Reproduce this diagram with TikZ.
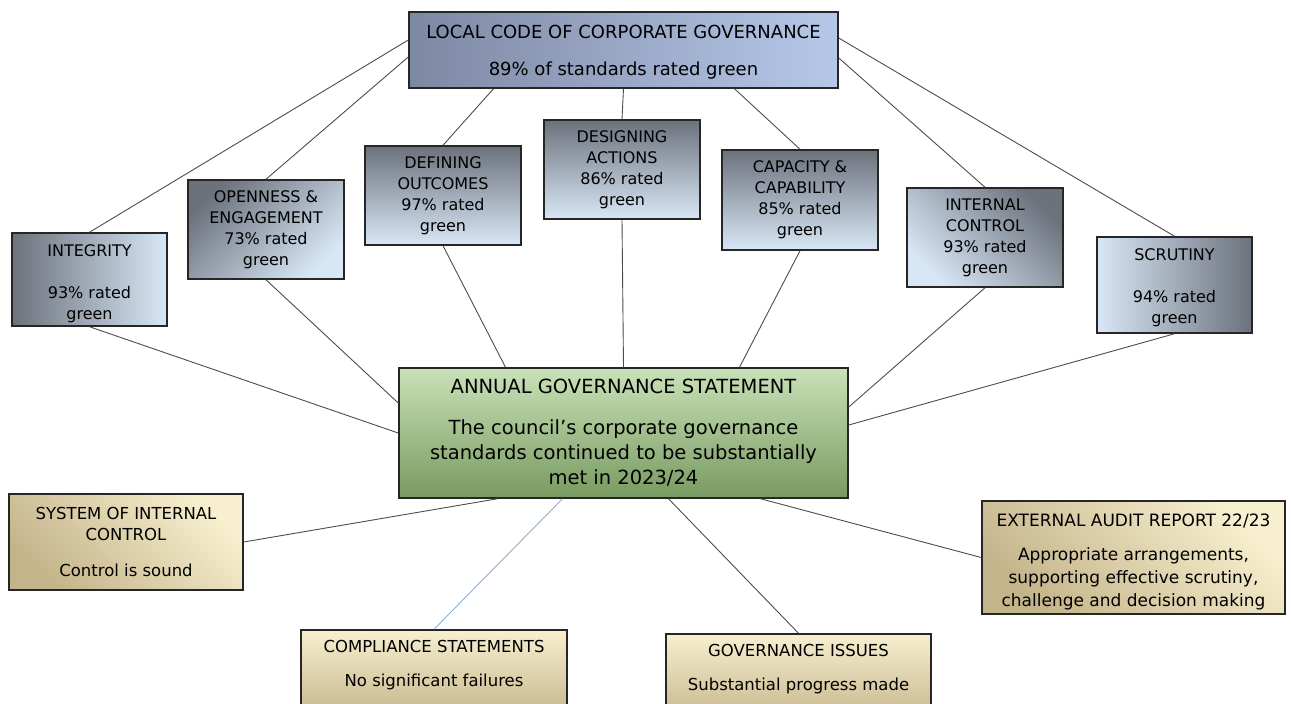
\documentclass[tikz,border=0pt]{standalone}
\usepackage{fontspec}
\setmainfont{DejaVu Sans}

\definecolor{slate}{HTML}{6C727C}
\definecolor{mist}{HTML}{D8E7F6}
\definecolor{steel}{HTML}{7D88A3}
\definecolor{sky}{HTML}{B6C8E9}
\definecolor{leaf}{HTML}{C9E2B8}
\definecolor{moss}{HTML}{789A60}
\definecolor{cream}{HTML}{F7EFCF}
\definecolor{tan}{HTML}{C4B48A}
\definecolor{paleblue}{HTML}{8EAED0}

\begin{document}
\begin{tikzpicture}[x=1pt, y=-1pt,
    box/.style={draw=black!85, line width=1.5pt, align=center, inner sep=2pt},
    rated/.style={box, minimum width=156pt, minimum height=99pt,
        top color=slate, bottom color=mist, font=\fontsize{16}{21}\selectfont},
    source/.style={box, top color=cream, bottom color=tan,
        font=\fontsize{16.5}{21}\selectfont},
    link/.style={black!70, line width=0.9pt}]

    \useasboundingbox (0,0) rectangle (1291,704);
    \clip (0,0) rectangle (1291,704);

    \node[box, minimum width=429pt, minimum height=76pt, left color=steel, right color=sky,
        font=\fontsize{18}{21}\selectfont] (/code) at (623.5,50)
        {\rule{0pt}{17pt}LOCAL CODE OF CORPORATE GOVERNANCE\\[16pt]89\% of standards rated green};

    % the seven principles
    \node[rated, minimum width=155pt, minimum height=93pt, shading angle=90]
        (/code/integrity) at (89.5,279.5) {\rule{0pt}{20pt}INTEGRITY\\[21pt]93\% rated\\green};
    \node[rated, shading angle=45]
        (/code/openness) at (266,229.5) {OPENNESS \&\\ENGAGEMENT\\73\% rated\\green};
    \node[rated] (/code/defining) at (443,195.5) {DEFINING\\OUTCOMES\\97\% rated\\green};
    \node[rated] (/code/designing) at (622,169.5) {DESIGNING\\ACTIONS\\86\% rated\\green};
    \node[rated, minimum height=100pt]
        (/code/capacity) at (800,200) {CAPACITY \&\\CAPABILITY\\85\% rated\\green};
    \node[rated, shading angle=-45]
        (/code/internal) at (985,237.5) {INTERNAL\\CONTROL\\93\% rated\\green};
    \node[rated, minimum width=155pt, minimum height=96pt, shading angle=-90]
        (/code/scrutiny) at (1174.5,285) {\rule{0pt}{17pt}SCRUTINY\\[21pt]94\% rated\\green};

    \node[box, minimum width=449pt, minimum height=130pt, top color=leaf, bottom color=moss,
        font=\fontsize{19.5}{25}\selectfont] (/ags) at (623.5,433)
        {ANNUAL GOVERNANCE STATEMENT\\[16pt]The council’s corporate governance\\
         standards continued to be substantially\\met in 2023/24};

    % sources of assurance
    \node[source, minimum width=234pt, minimum height=96pt, shading angle=-45]
        (/ags/control) at (126,542) {SYSTEM OF INTERNAL\\CONTROL\\[15pt]Control is sound};
    \node[source, minimum width=266pt, minimum height=90pt]
        (/ags/compliance) at (434,675) {COMPLIANCE STATEMENTS\\[13pt]No significant failures\\[-5pt]\strut};
    \node[source, minimum width=265pt, minimum height=90pt]
        (/ags/issues) at (798.5,679) {GOVERNANCE ISSUES\\[13pt]Substantial progress made\\[-5pt]\strut};
    \node[source, minimum width=303pt, minimum height=113pt, shading angle=-45,
        font=\fontsize{17}{23}\selectfont] (/ags/audit) at (1133.5,557.5)
        {\rule{0pt}{22pt}EXTERNAL AUDIT REPORT 22/23\\[11pt]Appropriate arrangements,\\
         supporting effective scrutiny,\\challenge and decision making};

    \draw[link] ([yshift=10pt]/code.west) -- (/code/integrity.north);
    \draw[link] ([yshift=-7pt]/code.west) -- (/code/openness.north);
    \draw[link] ([xshift=-130pt]/code.south) -- (/code/defining.north);
    \draw[link] (/code.south) -- (/code/designing.north);
    \draw[link] ([xshift=111pt]/code.south) -- (/code/capacity.north);
    \draw[link] ([yshift=-8pt]/code.east) -- (/code/internal.north);
    \draw[link] ([yshift=12pt]/code.east) -- (/code/scrutiny.north);

    \draw[link] (/code/integrity.south) -- (/ags.west);
    \draw[link] (/code/openness.south) -- ([yshift=30pt]/ags.west);
    \draw[link] (/code/defining.south) -- ([xshift=-118pt]/ags.north);
    \draw[link] (/code/designing.south) -- (/ags.north);
    \draw[link] (/code/capacity.south) -- ([xshift=116pt]/ags.north);
    \draw[link] (/code/internal.south) -- ([yshift=26pt]/ags.east);
    \draw[link] (/code/scrutiny.south) -- ([yshift=8pt]/ags.east);

    \draw[link] ([xshift=-126pt]/ags.south) -- (/ags/control.east);
    \draw[link, paleblue] ([xshift=-61pt]/ags.south) -- (/ags/compliance.north);
    \draw[link] ([xshift=45pt]/ags.south) -- (/ags/issues.north);
    \draw[link] ([xshift=137pt]/ags.south) -- (/ags/audit.west);
\end{tikzpicture}
\end{document}
